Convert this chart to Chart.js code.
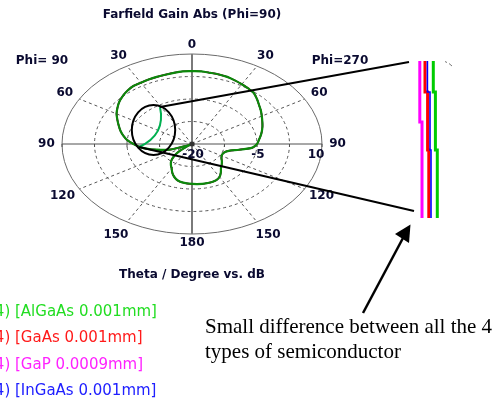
<!DOCTYPE html>
<html><head><meta charset="utf-8">
<script src="https://cdn.jsdelivr.net/npm/chart.js@4/dist/chart.umd.min.js"></script>
<style>html,body{margin:0;padding:0;background:#fff;overflow:hidden}#wrap{position:relative;width:501px;height:402px}</style>
</head><body><div id="wrap"><canvas id="c"></canvas></div>
<script>
// plot angle (deg, 0 = top, clockwise; right half = Phi=270, left half = Phi=90)
const angles = [0,5,10,15,20,25,30,35,40,45,50,55,60,65,70,75,80,85,90,95,100,105,110,115,120,125,130,135,140,145,150,155,160,165,170,175,180,185,190,195,200,205,210,215,220,225,230,235,240,245,250,255,260,265,270,275,280,285,290,295,300,305,310,315,320,325,330,335,340,345,350,355];
// Farfield gain (dB)
const gainAlGaAs = [4.3,4.3,4.1,4.0,3.8,3.4,3.0,2.6,2.2,1.2,0.2,-0.6,-1.4,-2.1,-2.7,-3.3,-3.9,-4.5,-5.0,-6.0,-9.0,-11.2,-12.0,-12.2,-12.1,-11.7,-11.0,-10.3,-9.6,-8.4,-7.3,-6.7,-6.5,-6.5,-6.5,-6.6,-6.7,-6.8,-7.0,-7.4,-8.2,-9.3,-10.6,-11.5,-12.5,-14.0,-16.0,-18.5,-20.0,-19.0,-14.5,-12.5,-10.0,-8.0,-6.5,-5.0,-3.9,-2.9,-2.0,-1.0,0.1,1.0,1.9,2.6,3.2,3.6,3.6,3.7,3.8,3.9,4.1,4.3];
const gainGaAs   = [4.3,4.3,4.1,4.0,3.8,3.4,3.0,2.6,2.2,1.2,0.2,-0.6,-1.4,-2.1,-2.7,-3.3,-3.9,-4.5,-5.0,-6.0,-9.0,-11.2,-12.0,-12.2,-12.1,-11.7,-11.0,-10.3,-9.6,-8.4,-7.3,-6.7,-6.5,-6.5,-6.5,-6.6,-6.7,-6.8,-7.0,-7.4,-8.2,-9.3,-10.6,-11.5,-12.5,-14.0,-16.0,-18.5,-20.0,-19.0,-14.5,-12.5,-10.0,-8.0,-6.5,-5.0,-3.9,-2.9,-2.0,-1.0,0.1,1.0,1.9,2.6,3.2,3.6,3.6,3.7,3.8,3.9,4.1,4.3];
const gainGaP    = [4.3,4.3,4.1,4.0,3.8,3.4,3.0,2.6,2.2,1.2,0.2,-0.6,-1.4,-2.1,-2.7,-3.3,-3.9,-4.5,-5.0,-6.0,-9.0,-11.2,-12.0,-12.2,-12.1,-11.7,-11.0,-10.3,-9.6,-8.4,-7.3,-6.7,-6.5,-6.5,-6.5,-6.6,-6.7,-6.8,-7.0,-7.4,-8.2,-9.3,-10.6,-11.5,-12.5,-14.0,-16.0,-18.5,-20.0,-19.0,-14.5,-12.5,-10.0,-8.0,-6.5,-5.0,-3.9,-2.9,-2.0,-1.0,0.1,1.0,1.9,2.6,3.2,3.6,3.6,3.7,3.8,3.9,4.1,4.3];
const gainInGaAs = [4.3,4.3,4.1,4.0,3.8,3.4,3.0,2.6,2.2,1.2,0.2,-0.6,-1.4,-2.1,-2.7,-3.3,-3.9,-4.5,-5.0,-6.0,-9.0,-11.2,-12.0,-12.2,-12.1,-11.7,-11.0,-10.3,-9.6,-8.4,-7.3,-6.7,-6.5,-6.5,-6.5,-6.6,-6.7,-6.8,-7.0,-7.4,-8.2,-9.3,-10.6,-11.5,-12.5,-14.0,-16.0,-18.5,-20.0,-19.0,-14.5,-12.5,-10.0,-8.0,-6.5,-5.0,-3.9,-2.9,-2.0,-1.0,0.1,1.0,1.9,2.6,3.2,3.6,3.6,3.7,3.8,3.9,4.1,4.3];

const seriesNames = ['4) [AlGaAs 0.001mm]','4) [GaAs 0.001mm]','4) [GaP 0.0009mm]','4) [InGaAs 0.001mm]'];
const radialTicks = [-20,-12.5,-5,2.5,10];
const radialLabelValues = [-20,-5,10];
const radialLabelTexts = ['-20','-5','10'];
const thetaTickAngles = [0,30,60,90,120,150,180,210,240,270,300,330];
const thetaTickLabels = ['0','30','60','90','120','150','180','150','120','90','60','30'];
const phiLabels = ['Phi= 90','Phi=270'];
const titleText = 'Farfield Gain Abs (Phi=90)';
const axisText = 'Theta / Degree vs. dB';
const noteLines = ['Small difference between all the 4','types of semiconductor'];

const rMin = radialTicks[0], rMax = radialTicks[radialTicks.length-1];
const norm = v => Math.max(0,(v - rMin)/(rMax - rMin));
function toXY(ang, vals){
  const pts = ang.map((a,i)=>{const t=a*Math.PI/180, r=norm(vals[i]); return {x:r*Math.sin(t), y:r*Math.cos(t)};});
  pts.push(pts[0]);
  return pts;
}
const TXT = '#0a0a30';
const FONT = 'bold 12px "DejaVu Sans", sans-serif';

const gridPlugin = {
  id:'polarGrid',
  beforeDatasetsDraw(chart){
    const ctx = chart.ctx, sx = chart.scales.x, sy = chart.scales.y;
    const cx = sx.getPixelForValue(0), cy = sy.getPixelForValue(0);
    const rx = sx.getPixelForValue(1)-cx, ry = cy - sy.getPixelForValue(1);
    ctx.save();
    ctx.strokeStyle = '#555'; ctx.lineWidth = 1; ctx.setLineDash([3,3]);
    radialTicks.slice(1,-1).forEach(v=>{const f=norm(v); ctx.beginPath(); ctx.ellipse(cx,cy,rx*f,ry*f,0,0,Math.PI*2); ctx.stroke();});
    thetaTickAngles.filter(a=>a%90!==0).forEach(a=>{const t=a*Math.PI/180; ctx.beginPath(); ctx.moveTo(cx,cy); ctx.lineTo(cx+rx*Math.sin(t), cy-ry*Math.cos(t)); ctx.stroke();});
    ctx.setLineDash([]);
    ctx.strokeStyle = '#6a6a6a'; ctx.lineWidth = 1;
    ctx.beginPath(); ctx.ellipse(cx,cy,rx,ry,0,0,Math.PI*2); ctx.stroke();
    ctx.strokeStyle = '#505050'; ctx.lineWidth = 1;
    ctx.beginPath(); ctx.moveTo(cx-rx,cy); ctx.lineTo(cx+rx,cy); ctx.stroke();
    ctx.strokeStyle = '#7a7a7a'; ctx.lineWidth = 2;
    ctx.beginPath(); ctx.moveTo(cx,cy-ry); ctx.lineTo(cx,cy+ry); ctx.stroke();
    ctx.strokeStyle = '#505050'; ctx.lineWidth = 1;
    radialTicks.slice(1).forEach(v=>{const f=norm(v); [-1,1].forEach(s=>{ctx.beginPath(); ctx.moveTo(cx+s*rx*f,cy); ctx.lineTo(cx+s*rx*f,cy+3); ctx.stroke();});});
    ctx.restore();
  },
  afterDatasetsDraw(chart){
    const ctx = chart.ctx, sx = chart.scales.x, sy = chart.scales.y;
    const cx = sx.getPixelForValue(0), cy = sy.getPixelForValue(0);
    const rx = sx.getPixelForValue(1)-cx, ry = cy - sy.getPixelForValue(1);
    ctx.save();
    ctx.fillStyle = '#333'; ctx.beginPath(); ctx.arc(cx,cy,2.5,0,Math.PI*2); ctx.fill();
    ctx.fillStyle = TXT; ctx.font = FONT; ctx.textAlign = 'center'; ctx.textBaseline = 'middle';
    ctx.fillText(titleText, cx, 15);
    ctx.fillText(axisText, cx, 275);
    const labR = {0:1.1,30:1.13,60:1.13,90:1.12,120:1.15,150:1.17,180:1.1,210:1.17,240:1.15,270:1.12,300:1.13,330:1.13};
    thetaTickAngles.forEach((a,i)=>{const t=a*Math.PI/180, r=labR[a]; ctx.fillText(thetaTickLabels[i], cx+rx*r*Math.sin(t), cy-ry*r*Math.cos(t));});
    ctx.fillText(phiLabels[0], 42, 61);
    ctx.fillText(phiLabels[1], 340, 61);
    const dx = {'-20':1,'-5':1,'10':-6};
    radialLabelValues.forEach((v,i)=>{ctx.fillText(radialLabelTexts[i], cx+rx*norm(v)+dx[radialLabelTexts[i]], cy+11);});
    ctx.strokeStyle = '#00b050'; ctx.lineWidth = 2;
    ctx.beginPath(); ctx.moveTo(160,107); ctx.quadraticCurveTo(166,135,139,147); ctx.stroke();
    ctx.strokeStyle = '#000'; ctx.lineWidth = 2;
    ctx.beginPath(); ctx.ellipse(153.5,130,21.7,25,0,0,Math.PI*2); ctx.stroke();
    ctx.beginPath(); ctx.moveTo(160,107); ctx.lineTo(409,62); ctx.stroke();
    ctx.beginPath(); ctx.moveTo(139,147); ctx.lineTo(414,211); ctx.stroke();
    const strip = (col,w,segs)=>{ctx.strokeStyle=col; ctx.lineWidth=w; ctx.beginPath(); segs.forEach((s,k)=>{if(k===0) ctx.moveTo(s[0],s[1]); else ctx.lineTo(s[0],s[1]); ctx.lineTo(s[0],s[2]);}); ctx.stroke();};
    ctx.lineCap = 'butt';
    strip('#ff00ff',3,[[419.8,61,122],[422,122,218]]);
    strip('#ff0000',3,[[425,61,92],[427.6,92,150],[428.8,150,218]]);
    strip('#0000ff',1.6,[[427.4,61,92],[430,92,150],[431,150,218]]);
    strip('#00cc00',3,[[433.3,61,92],[435.4,92,150],[437.3,150,218]]);
    ctx.strokeStyle = '#777'; ctx.lineWidth = 1;
    ctx.beginPath(); ctx.moveTo(445,61.5); ctx.lineTo(447,62.5); ctx.moveTo(449,63.5); ctx.lineTo(452,66); ctx.stroke();
    ctx.strokeStyle = '#000'; ctx.fillStyle = '#000'; ctx.lineWidth = 2.5;
    ctx.beginPath(); ctx.moveTo(363,313); ctx.lineTo(403,238); ctx.stroke();
    ctx.beginPath(); ctx.moveTo(410.5,224.5); ctx.lineTo(395,234); ctx.lineTo(409,243); ctx.closePath(); ctx.fill();
    ctx.fillStyle = '#000'; ctx.font = '21px "Liberation Serif", serif'; ctx.textAlign = 'left'; ctx.textBaseline = 'alphabetic';
    ctx.fillText(noteLines[0], 205, 333);
    ctx.fillText(noteLines[1], 205, 358);
    const legCols = ['#22dd22','#ff1a1a','#ff22ff','#2020ff'];
    const legY = [312,338.5,365,391.5];
    ctx.font = '15px "DejaVu Sans", sans-serif'; ctx.textBaseline = 'middle';
    seriesNames.forEach((s,i)=>{const pre = s.slice(0, s.indexOf('[')); const w = ctx.measureText(pre).width; ctx.fillStyle = legCols[i]; ctx.fillText(s, 15 - w, legY[i]);});
    ctx.restore();
  }
};

const ds = (label, vals, col, w) => ({label, data: toXY(angles, vals), showLine:true, borderColor:col, backgroundColor:col, borderWidth:w, pointRadius:0, tension:0.3, fill:false});

new Chart(document.getElementById('c'), {
  type:'scatter',
  data:{datasets:[
    ds(seriesNames[0], gainAlGaAs, '#0b8a0b', 2.2),
    ds(seriesNames[1], gainGaAs, '#ff0000', 1.5),
    ds(seriesNames[2], gainGaP, '#ff00ff', 1.5),
    ds(seriesNames[3], gainInGaAs, '#0000ff', 1.5)
  ]},
  options:{
    responsive:true, maintainAspectRatio:false, animation:false,
    layout:{padding:0},
    plugins:{legend:{display:false}, tooltip:{enabled:false}, title:{display:false}},
    scales:{
      x:{type:'linear', display:false, min:-192/130, max:309/130},
      y:{type:'linear', display:false, min:-258/90, max:144/90}
    }
  },
  plugins:[gridPlugin]
});
</script></body></html>
